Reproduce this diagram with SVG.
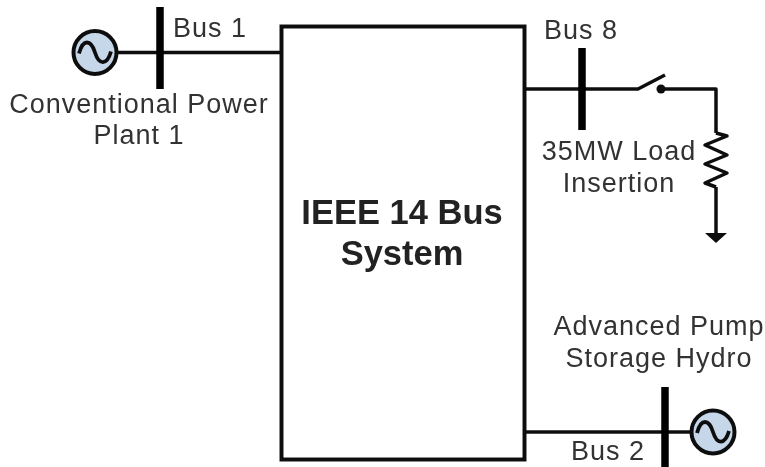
<svg xmlns="http://www.w3.org/2000/svg" width="765" height="467" viewBox="0 0 765 467">
<style>
text{font-family:"Liberation Sans",Arial,sans-serif;font-size:27px;fill:#333;text-anchor:middle;letter-spacing:1px}
.title{font-size:34.500px;font-weight:bold;fill:#222;letter-spacing:0}
.w{fill:none;stroke:#111;stroke-width:3.500px;stroke-linejoin:round}
.bus{stroke:#000;stroke-width:7.500px;fill:none}
.gen{fill:#c6d7ea;stroke:#111;stroke-width:4px}
</style>
<defs>
<filter id="soft" x="0" y="0" width="100%" height="100%"><feGaussianBlur stdDeviation="0.6"/></filter>
<g id="gensym"><circle r="21.500" class="gen"/><path d="M-16 1C-12-14-4-13 0 0S12 13 16-1" fill="none" stroke="#111" stroke-width="3.800"/></g>
</defs>
<rect width="765" height="467" fill="#fff"/>
<g filter="url(#soft)">
<g id="connectors">
<path class="w" d="M118 52.500H281"/>
<path class="w" d="M525 89H638L665 75"/>
<path class="w" d="M661 89H716V133M716 187V236"/>
<path class="w" d="M716 133L727 136L705 145L727 155L705 164L727 173L705 183L716 187"/>
<path class="w" d="M525 432H692"/>
</g>
<g id="system"><rect x="281.500" y="26.500" width="243" height="433" fill="none" stroke="#111" stroke-width="4"/><text class="title" x="402" y="224">IEEE 14 Bus</text><text class="title" x="402" y="265">System</text></g>
<g id="bus1"><path class="bus" d="M160 7V89"/><text x="210" y="37">Bus 1</text></g>
<g id="gen1"><use href="#gensym" x="95" y="52.500"/><text x="139" y="113">Conventional Power</text><text x="139" y="144">Plant 1</text></g>
<g id="bus8"><path class="bus" d="M582 48V130"/><text x="581" y="39">Bus 8</text></g>
<g id="switch"><circle cx="661" cy="89" r="4.500" fill="#111"/></g>
<g id="load"><path d="M705 233H727L716 243Z" fill="#111"/><text x="619" y="160">35MW Load</text><text x="619" y="192">Insertion</text></g>
<g id="bus2"><path class="bus" d="M665 387V467"/><text x="608" y="460">Bus 2</text></g>
<g id="gen2"><use href="#gensym" x="713" y="432"/><text x="659" y="335">Advanced Pump</text><text x="659" y="367">Storage Hydro</text></g>
</g>
</svg>
